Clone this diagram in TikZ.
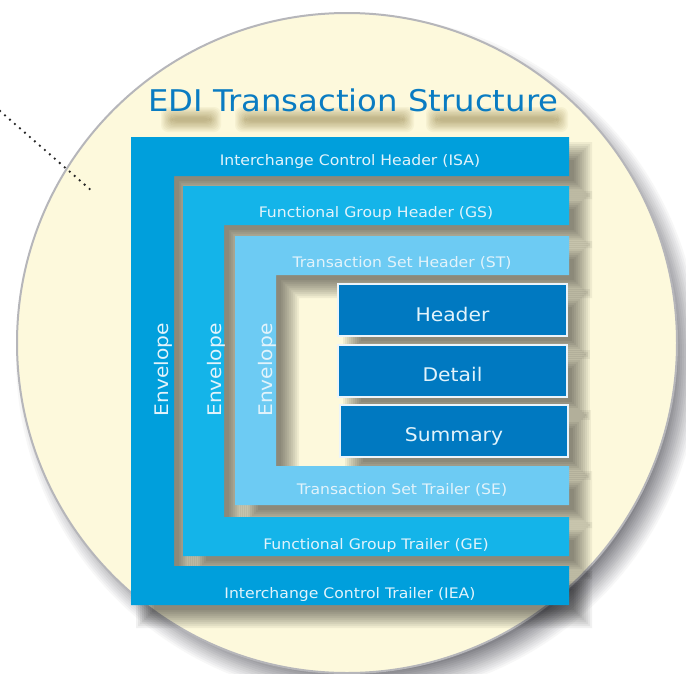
\documentclass[tikz,border=0pt]{standalone}
\usepackage{fontspec}
\setmainfont{DejaVu Sans}[FakeStretch=1.08]
\definecolor{cream}{HTML}{FDF9DC}
\definecolor{shstep}{HTML}{F1F1F1}
\definecolor{tstep}{HTML}{F8F7F3}
\definecolor{cshc}{HTML}{85858B}
\definecolor{isac}{HTML}{009FDC}
\definecolor{gsc}{HTML}{14B4E9}
\definecolor{stc}{HTML}{6DCBF3}
\definecolor{innerc}{HTML}{0079C1}
\definecolor{titlec}{HTML}{0A7CC2}
\definecolor{ringc}{HTML}{B6B6BA}
\definecolor{labc}{HTML}{E2F3FB}
\newcommand\softshadow[1]{%
  \foreach \j in {1,...,10}{%
    \pgfmathsetmacro\e{11-2*\j}%
    \fill[shstep, shift={(14,14)}, #1];
  }%
}
\newcommand\blob[4]{%
  \foreach \j in {1,...,9}{%
    \pgfmathsetmacro\e{6-1.3*(\j-1)}%
    \fill[tstep, rounded corners=7pt] (#1-\e,#2-\e) rectangle (#3+\e,#4+\e);
  }%
}
\def\e{0}
\begin{document}
\begin{tikzpicture}[x=1pt,y=-1pt,
  pISA/.style={insert path={(131-\e,137-\e) -- (569+\e,137-\e) -- (569+\e,176+\e) -- (174+\e,176+\e) -- (174+\e,566-\e) -- (569+\e,566-\e) -- (569+\e,605+\e) -- (131-\e,605+\e) -- cycle}},
  pGS/.style={insert path={(183-\e,186-\e) -- (569+\e,186-\e) -- (569+\e,225+\e) -- (224+\e,225+\e) -- (224+\e,517-\e) -- (569+\e,517-\e) -- (569+\e,556+\e) -- (183-\e,556+\e) -- cycle}},
  pST/.style={insert path={(235-\e,236-\e) -- (569+\e,236-\e) -- (569+\e,275+\e) -- (276+\e,275+\e) -- (276+\e,466-\e) -- (569+\e,466-\e) -- (569+\e,505+\e) -- (235-\e,505+\e) -- cycle}},
  pHD/.style={insert path={(338-\e,284-\e) rectangle (567+\e,336+\e)}},
  pDT/.style={insert path={(338-\e,345-\e) rectangle (567+\e,397+\e)}},
  pSM/.style={insert path={(340-\e,405-\e) rectangle (568+\e,457+\e)}},
  titlefont/.style={font=\fontsize{29.9}{32}\selectfont, inner sep=0pt},
  lab/.style={text=labc, font=\fontsize{14.5}{16}\selectfont, anchor=base, inner sep=0pt},
  blab/.style={text=labc, font=\fontsize{18.8}{20}\selectfont, anchor=base, inner sep=0pt},
  env/.style={text=labc, font=\fontsize{18.7}{20}\selectfont, rotate=90, anchor=base, inner sep=0pt},
  ibox/.style={fill=innerc, draw=white!92!innerc, line width=1.3pt},
]
\useasboundingbox (0,0) rectangle (686,673);
\fill[white] (0,0) rectangle (686,673);
\clip (0,0) rectangle (686,673);

% circle shadow
\foreach \i in {0,...,14}{%
  \pgfmathsetmacro\rr{330+14-28*\i/14}%
  \pgfmathtruncatemacro\pc{100*\i/14}%
  \fill[cshc!\pc!white] (358,357) circle[radius=\rr];
}
% circle
\fill[cream] (347,343) circle[radius=330];
\draw[ringc, line width=2pt] (347,343) circle[radius=330];

% blurred shadow of the title, word by word
\begin{scope}[blend mode=multiply]
  \blob{167}{113}{215}{126}
  \blob{241}{113}{408}{126}
  \blob{432}{113}{562}{126}
\end{scope}

% soft shadows of the envelopes and segments
\begin{scope}[blend mode=multiply]
  \softshadow{pISA}
  \softshadow{pGS}
  \softshadow{pST}
  \softshadow{pHD}
  \softshadow{pDT}
  \softshadow{pSM}
\end{scope}

% title
\node[titlefont, text=titlec, anchor=base west] (title) at (148,111) {EDI Transaction Structure};

% nested envelopes
\fill[isac, pISA];
\fill[gsc, pGS];
\fill[stc, pST];
\draw[ibox, pHD];
\draw[ibox, pDT];
\draw[ibox, pSM];

% band labels
\node[lab] (isa) at (350,165.3) {Interchange Control Header (ISA)};
\node[lab] (gs) at (376,217.3) {Functional Group Header (GS)};
\node[lab] (st) at (402,267.5) {Transaction Set Header (ST)};
\node[lab] (se) at (402,494) {Transaction Set Trailer (SE)};
\node[lab] (ge) at (376,549.3) {Functional Group Trailer (GE)};
\node[lab] (iea) at (350,598.3) {Interchange Control Trailer (IEA)};

% inner labels
\node[blab] (hdr) at (452.5,321) {Header};
\node[blab] (dtl) at (452.5,381) {Detail};
\node[blab] (sum) at (454,441.7) {Summary};

% envelope labels
\node[env] (env1) at (168,369.5) {Envelope};
\node[env] (env2) at (221,370) {Envelope};
\node[env] (env3) at (272.7,370) {Envelope};

% dotted pointer
\coordinate (dA) at (0,111);
\coordinate (dB) at (92,191);
\draw[black!85, line width=2.6pt, line cap=round, dash pattern=on 0pt off 6.6pt] (dA) -- (dB);
\end{tikzpicture}
\end{document}
